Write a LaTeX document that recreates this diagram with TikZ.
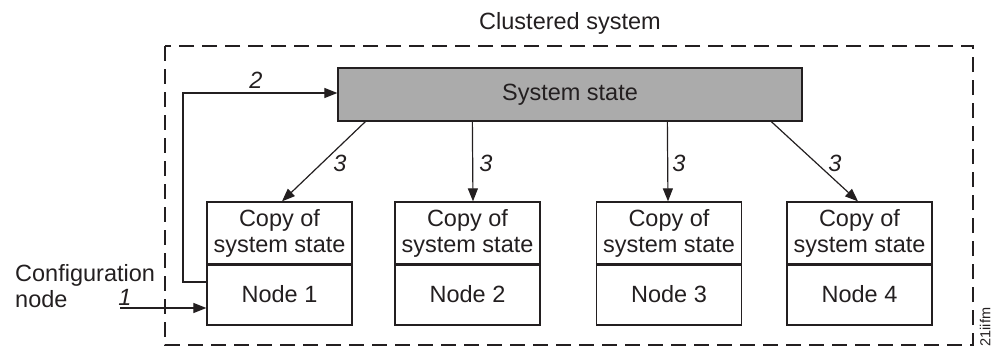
\documentclass[tikz,border=0pt]{standalone}
\usepackage{fontspec}
\setmainfont{Liberation Sans}
\usetikzlibrary{arrows.meta}
\definecolor{ink}{HTML}{231F20}
\definecolor{stategray}{HTML}{ABABAB}
\begin{document}
\begin{tikzpicture}[x=1pt,y=-1pt,
  txt/.style={font=\fontsize{23.5}{26}\selectfont, text=ink},
  lbl/.style={font=\fontsize{23.5}{26}\selectfont\itshape, text=ink, inner sep=0pt},
  arr/.style={draw=ink, line width=1.2pt, -{Triangle[length=13pt,width=10pt]}},
  frame/.style={draw=ink, line width=1.2pt, dash pattern=on 15pt off 8pt},
  statebox/.style={txt, draw=ink, line width=1.3pt, fill=stategray, minimum width=464pt, minimum height=53pt, inner sep=0pt},
  copybox/.style={txt, draw=ink, line width=1.3pt, fill=white, minimum width=145pt, minimum height=62pt, inner sep=0pt, align=center},
  namebox/.style={txt, draw=ink, line width=1.3pt, fill=white, minimum width=145pt, minimum height=61pt, inner sep=0pt}
]
\useasboundingbox (0,0) rectangle (993,348);

% cluster boundary and its title
\draw[frame] (165,46) rectangle (973,345);
\node[txt] (title) at (570,23) {Clustered system};

% shared system state
\node[statebox] (ss) at (570,94.5) {System state};

% the four nodes, each holding a copy of the state
\foreach \i/\x in {1/279.5, 2/467.5, 3/669, 4/859.5} {
  \node[copybox] (c\i) at (\x,233) {Copy of\\system state};
  \node[namebox] (n\i) at (\x,294.5) {Node \i};
  \draw[ink, line width=2.4pt] (c\i.south west) -- (c\i.south east);
}

% step 1: configuration enters node 1
\node[txt, anchor=base west, inner sep=0pt] (cfg) at (15,281) {Configuration};
\node[txt, anchor=base west, inner sep=0pt] (cfgb) at (15,307) {node};
\coordinate (cfgin) at (120,308);
\draw[arr] (cfgin) -- (n1.west |- cfgin);
\node[lbl] (l1) at (125,297) {1};

% step 2: node 1 updates the system state
\coordinate (fbbot) at (183,282);
\coordinate (fbtop) at (183,93);
\draw[arr] (n1.west |- fbbot) -- (fbbot) -- (fbtop) -- (ss.west |- fbtop);
\node[lbl] (l2) at (256,80) {2};

% step 3: state is copied to every node
\draw[arr] ([xshift=28pt]ss.south west) -- ([xshift=2.5pt]c1.north);
\draw[arr] ([xshift=135pt]ss.south west) -- ([xshift=5.5pt]c2.north);
\draw[arr] ([xshift=330pt]ss.south west) -- ([xshift=-1pt]c3.north);
\draw[arr] ([xshift=434pt]ss.south west) -- ([xshift=-1.5pt]c4.north);
\node[lbl] (l3a) at (340,163) {3};
\node[lbl] (l3b) at (486,163) {3};
\node[lbl] (l3c) at (679,163) {3};
\node[lbl] (l3d) at (835,163) {3};

% figure tag
\node[font=\fontsize{14.5}{16}\selectfont, text=ink, rotate=90, inner sep=0pt] (tag) at (985,327) {21iifm};
\end{tikzpicture}
\end{document}
